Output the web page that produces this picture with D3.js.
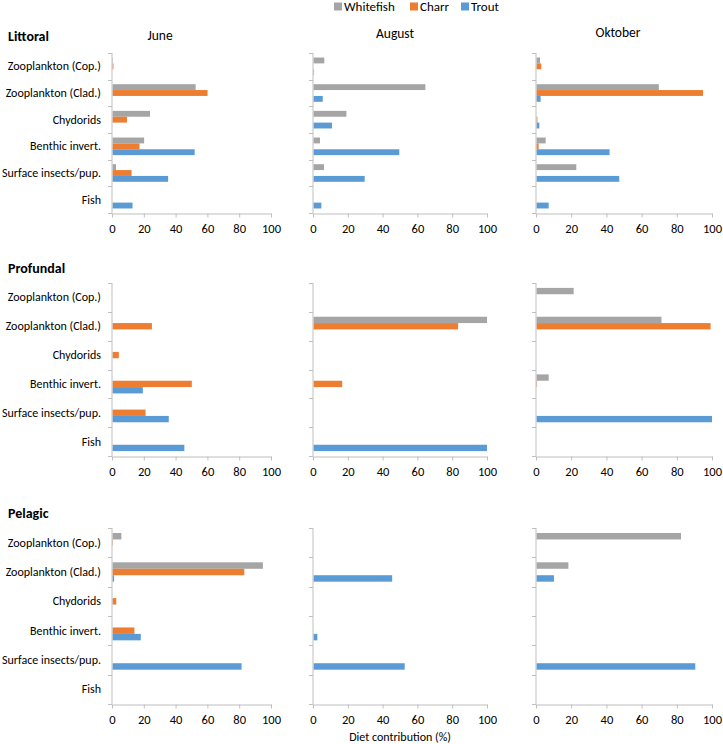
<!DOCTYPE html>
<html><head><meta charset="utf-8">
<script src="https://cdn.jsdelivr.net/npm/d3@7"></script>
<style>
body{margin:0;background:#fff;}
svg text{font-family:Carlito,Lato,"Open Sans",sans-serif;fill:#000;}
</style></head>
<body><svg id="c" width="723" height="744"></svg>
<script>
const categories = ["Zooplankton (Cop.)","Zooplankton (Clad.)","Chydorids","Benthic invert.","Surface insects/pup.","Fish"];
const seriesNames = ["Whitefish","Charr","Trout"];
const months = ["June","August","Oktober"];
const habitats = ["Littoral","Profundal","Pelagic"];
const xTicks = [0,20,40,60,80,100];

// values per month [June, August, Oktober], each by category
const littoralWhitefish = [[0.6,52.6,23.9,20.2,2.5,0],[6.5,64.6,19.2,4.0,6.3,0],[2.3,69.8,0,5.5,22.9,0]];
const littoralCharr     = [[0.9,60.1,9.4,17.3,12.3,0],[0,0,0,0,0,0],[3.0,94.9,0.8,1.5,0,0]];
const littoralTrout     = [[0,0,0.3,52.0,35.3,12.9],[0.6,5.6,10.9,49.6,29.7,4.8],[0,2.6,1.9,41.8,47.3,7.2]];
const profundalWhitefish= [[0,0,0,0,0,0],[0,100,0,0,0,0],[21.4,71.3,0,7.2,0,0]];
const profundalCharr    = [[0,25.1,4.3,50.2,21.1,0],[0,83.4,0,16.8,0,0],[0,99.2,0,0.6,0,0]];
const profundalTrout    = [[0,0,0,19.4,35.7,45.5],[0,0,0,0,0,100],[0,0,0,0,100,0]];
const pelagicWhitefish  = [[5.9,94.9,0,0,0,0],[0,0,0,0,0,0],[82.4,18.4,0,0,0,0]];
const pelagicCharr      = [[0.6,83.2,2.7,14.1,0,0],[0,0,0,0,0,0],[0,0,0,0,0,0]];
const pelagicTrout      = [[0,1.3,0,18.1,81.5,0],[0,45.5,0,2.5,52.7,0],[0,10.2,0,0,90.5,0]];

const colors = ["#A5A5A5","#ED7D31","#5B9BD5"];
const habitatData = [
  [littoralWhitefish, littoralCharr, littoralTrout],
  [profundalWhitefish, profundalCharr, profundalTrout],
  [pelagicWhitefish, pelagicCharr, pelagicTrout]
];

// layout
const colX0 = [112, 313, 536], colX1 = [271, 487, 712];
const rowTop = [53, 283, 528], rowBottom = [213, 456, 704];
const axisColor = "#BFBFBF";

const svg = d3.select("#c");

// legend
const legend = svg.append("g");
const legX = [334, 410, 461];
seriesNames.forEach((s,i)=>{
  legend.append("rect").attr("x",legX[i]).attr("y",2.5).attr("width",8).attr("height",8).attr("fill",colors[i]);
  legend.append("text").attr("x",legX[i]+10).attr("y",11).attr("font-size",13).text(s);
});

// titles
const habY = [36, 268, 513];
habitats.forEach((h,r)=>{
  svg.append("text").attr("x",8).attr("y",habY[r]+5).attr("font-size",14).attr("font-weight","bold").text(h);
});
const monthX = [160, 395, 618], monthY = [40, 38, 37];
months.forEach((m,c)=>{
  svg.append("text").attr("x",monthX[c]).attr("y",monthY[c]).attr("text-anchor","middle").attr("font-size",13.5).text(m);
});

habitats.forEach((h,r)=>{
  months.forEach((m,c)=>{
    const x = d3.scaleLinear().domain([0,100]).range([colX0[c], colX1[c]]);
    const yEdge = d3.scalePoint().domain(d3.range(categories.length+1)).range([rowTop[r], rowBottom[r]]);
    const y = d3.scaleBand().domain(categories).range([rowTop[r], rowBottom[r]]).paddingInner(0.34).paddingOuter(0.17);
    const ys = d3.scaleBand().domain(seriesNames).range([0, y.bandwidth()]);
    const g = svg.append("g");

    // bars
    seriesNames.forEach((s,si)=>{
      const vals = habitatData[r][si][c];
      g.selectAll(null).data(categories.map((cat,k)=>({cat, v: vals[k]})).filter(d=>d.v>0))
        .enter().append("rect")
        .attr("x", x(0)+0.5)
        .attr("y", d=>y(d.cat)+ys(s))
        .attr("width", d=>Math.max(0, x(d.v)-x(0)-0.5))
        .attr("height", ys.bandwidth())
        .attr("fill", colors[si]);
    });

    // y axis line + ticks at category boundaries
    g.append("line").attr("x1",x(0)).attr("x2",x(0)).attr("y1",rowTop[r]).attr("y2",rowBottom[r]).attr("stroke",axisColor);
    g.selectAll(null).data(yEdge.domain()).enter().append("line")
      .attr("x1",x(0)-4).attr("x2",x(0)).attr("y1",d=>Math.round(yEdge(d))+0.5).attr("y2",d=>Math.round(yEdge(d))+0.5)
      .attr("stroke",axisColor);

    // category labels (first column only)
    if(c===0){
      g.selectAll(null).data(categories).enter().append("text")
        .attr("x", x(0)-11).attr("y", d=>y(d)+y.bandwidth()/2+4)
        .attr("text-anchor","end").attr("font-size",12).text(d=>d);
    }

    // x axis
    const xa = g.append("g").attr("transform",`translate(0,${Math.round(rowBottom[r])+0.5})`)
      .call(d3.axisBottom(x).tickValues(xTicks).tickSize(4).tickSizeOuter(0).tickPadding(7));
    xa.select(".domain").attr("stroke",axisColor);
    xa.selectAll(".tick line").attr("stroke",axisColor);
    xa.selectAll(".tick text").attr("font-size",12.5).attr("font-family","Carlito,Lato,'Open Sans',sans-serif");
  });
});

svg.append("text").attr("x",400).attr("y",741).attr("text-anchor","middle").attr("font-size",12).text("Diet contribution (%)");
</script></body></html>
